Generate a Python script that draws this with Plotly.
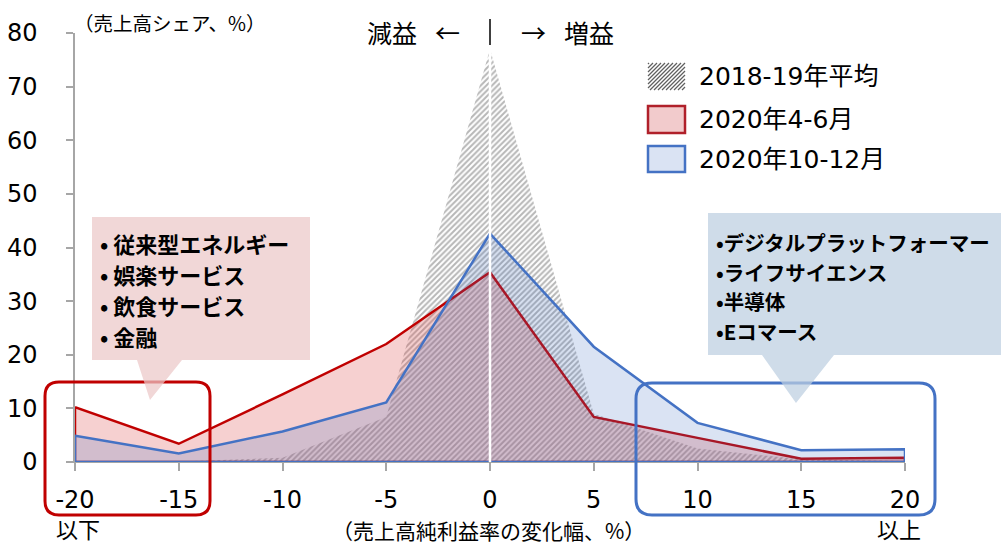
import plotly.graph_objects as go

# ---------------- data ----------------
x_cats = [-20, -15, -10, -5, 0, 5, 10, 15, 20]
avg_2018_19 = [0.0, 0.1, 0.8, 8.4, 77.0, 9.0, 2.5, 0.5, 0.2]
q2_2020 = [10.2, 3.4, 12.6, 22.0, 35.4, 8.4, 4.5, 0.6, 0.8]
q4_2020 = [4.9, 1.6, 5.7, 11.1, 42.6, 21.5, 7.3, 2.2, 2.4]

series_names = ["2018-19年平均", "2020年4-6月", "2020年10-12月"]
x_tick_vals = [-20, -15, -10, -5, 0, 5, 10, 15, 20]
x_tick_text = ["-20", "-15", "-10", "-5", "0", "5", "10", "15", "20"]
y_tick_vals = [0, 10, 20, 30, 40, 50, 60, 70, 80]

left_box_lines = ["従来型エネルギー", "娯楽サービス", "飲食サービス", "金融"]
right_box_lines = ["デジタルプラットフォーマー", "ライフサイエンス", "半導体", "Eコマース"]

# ---------------- layout geometry ----------------
W, H = 1001, 547
L, R, T, B = 75, 96, 33, 85
PW, PH = W - L - R, H - T - B

FONT = "DejaVu Sans, Noto Sans CJK JP, sans-serif"
JFONT = "Noto Sans CJK JP, DejaVu Sans, sans-serif"

RED = "#C00000"
BLUE = "#4472C4"


def px(xpix):
    return (xpix - L) / PW


def py(ypix):
    return (H - B - ypix) / PH


def closed(xs, ys):
    return xs + [xs[-1], xs[0], xs[0]], ys + [0, 0, ys[0]]


fig = go.Figure()

gx, gy = closed(x_cats, avg_2018_19)
fig.add_trace(go.Scatter(
    x=gx, y=gy, fill="toself", mode="lines",
    line=dict(width=0, color="rgba(0,0,0,0)"),
    fillcolor="rgba(255,255,255,0)",
    fillpattern=dict(shape="/", fgcolor="#707070", bgcolor="white", size=4, solidity=0.5),
    name=series_names[0], showlegend=False, hoverinfo="skip",
))

rx, ry = closed(x_cats, q2_2020)
fig.add_trace(go.Scatter(
    x=rx, y=ry, fill="toself", mode="lines",
    line=dict(width=2.5, color=RED),
    fillcolor="rgba(220,80,80,0.27)",
    name=series_names[1], showlegend=False, hoverinfo="skip",
))

bx, by = closed(x_cats, q4_2020)
fig.add_trace(go.Scatter(
    x=bx, y=by, fill="toself", mode="lines",
    line=dict(width=2.5, color=BLUE),
    fillcolor="rgba(68,114,196,0.20)",
    name=series_names[2], showlegend=False, hoverinfo="skip",
))

shapes = []
annotations = []

# white divider at x=0
shapes.append(dict(type="line", xref="x", yref="y", x0=0, x1=0, y0=0, y1=max(avg_2018_19) + 1,
                   line=dict(color="white", width=2.5), layer="above"))


def rounded_rect(x0, y0, x1, y1, r):
    pts = [
        ("M", px(x0 + r), py(y0)),
        ("L", px(x1 - r), py(y0)),
        ("Q", px(x1), py(y0), px(x1), py(y0 + r)),
        ("L", px(x1), py(y1 - r)),
        ("Q", px(x1), py(y1), px(x1 - r), py(y1)),
        ("L", px(x0 + r), py(y1)),
        ("Q", px(x0), py(y1), px(x0), py(y1 - r)),
        ("L", px(x0), py(y0 + r)),
        ("Q", px(x0), py(y0), px(x0 + r), py(y0)),
    ]
    s = ""
    for p in pts:
        cmd = p[0]
        nums = p[1:]
        s += cmd + " " + " ".join(
            f"{nums[i]:.5f},{nums[i+1]:.5f}" for i in range(0, len(nums), 2)) + " "
    return s + "Z"


def callout(x0, y0, x1, y1, tl, tr, ax, ay):
    seq = [(x0, y0), (x1, y0), (x1, y1), (tr, y1), (ax, ay), (tl, y1), (x0, y1)]
    s = "M " + " L ".join(f"{px(a):.5f},{py(b):.5f}" for a, b in seq) + " Z"
    return s


# rounded highlight frames
shapes.append(dict(type="path", xref="paper", yref="paper",
                   path=rounded_rect(45, 382, 210, 515, 14),
                   line=dict(color=RED, width=3), layer="above"))
shapes.append(dict(type="path", xref="paper", yref="paper",
                   path=rounded_rect(636, 383, 935, 515, 16),
                   line=dict(color=BLUE, width=3), layer="above"))

# callouts
shapes.append(dict(type="path", xref="paper", yref="paper",
                   path=callout(92, 217, 310, 360, 137, 182, 150, 400),
                   fillcolor="rgba(236,200,200,0.72)", line=dict(width=0), layer="above"))
shapes.append(dict(type="path", xref="paper", yref="paper",
                   path=callout(708, 213, 1001, 355, 762, 834, 796, 403),
                   fillcolor="rgba(188,206,224,0.72)", line=dict(width=0), layer="above"))

for i, t in enumerate(left_box_lines):
    annotations.append(dict(x=px(98), y=py(243 + 31 * i), xref="paper", yref="paper",
                            text="<b>• " + t + "</b>", showarrow=False, xanchor="left", yanchor="middle",
                            font=dict(family=JFONT, size=22, color="black")))
for i, t in enumerate(right_box_lines):
    annotations.append(dict(x=px(714), y=py(242 + 29.5 * i), xref="paper", yref="paper",
                            text="<b>•" + t + "</b>", showarrow=False, xanchor="left", yanchor="middle",
                            font=dict(family=JFONT, size=20.5, color="black")))

# legend (manual)
leg_x0, leg_x1 = 648, 685
leg_rows = [(63, 90), (106, 133), (146, 172)]
# hatched swatch
y0, y1 = leg_rows[0]
wbox, hbox = leg_x1 - leg_x0, y1 - y0
d = -hbox + 1
while d < wbox:
    v0 = max(0, -d)
    v1 = min(hbox, wbox - d)
    if v1 > v0:
        shapes.append(dict(type="line", xref="paper", yref="paper",
                           x0=px(leg_x0 + v0 + d), y0=py(y1 - v0),
                           x1=px(leg_x0 + v1 + d), y1=py(y1 - v1),
                           line=dict(color="#606060", width=1.3), layer="above"))
    d += 4
shapes.append(dict(type="rect", xref="paper", yref="paper",
                   x0=px(leg_x0), x1=px(leg_x1), y0=py(leg_rows[1][1]), y1=py(leg_rows[1][0]),
                   fillcolor="#F2CBCC", line=dict(color="#B0202A", width=2.5), layer="above"))
shapes.append(dict(type="rect", xref="paper", yref="paper",
                   x0=px(leg_x0), x1=px(leg_x1), y0=py(leg_rows[2][1]), y1=py(leg_rows[2][0]),
                   fillcolor="#DAE3F3", line=dict(color=BLUE, width=2.5), layer="above"))
for (a, b), name in zip(leg_rows, series_names):
    annotations.append(dict(x=px(697), y=py((a + b) / 2), xref="paper", yref="paper",
                            text=name, showarrow=False, xanchor="left", yanchor="middle",
                            font=dict(family=FONT, size=25, color="black")))

# header texts
annotations.append(dict(x=px(72), y=py(23), xref="paper", yref="paper", text="（売上高シェア、%）",
                        showarrow=False, xanchor="left", yanchor="middle",
                        font=dict(family=JFONT, size=19.5, color="black")))
annotations.append(dict(x=px(419), y=py(32), xref="paper", yref="paper", text="減益",
                        showarrow=False, xanchor="right", yanchor="middle",
                        font=dict(family=JFONT, size=25, color="black")))
annotations.append(dict(x=px(447), y=py(32), xref="paper", yref="paper", text="←",
                        showarrow=False, xanchor="center", yanchor="middle",
                        font=dict(family=JFONT, size=25, color="black")))
annotations.append(dict(x=px(533), y=py(32), xref="paper", yref="paper", text="→",
                        showarrow=False, xanchor="center", yanchor="middle",
                        font=dict(family=JFONT, size=25, color="black")))
annotations.append(dict(x=px(562), y=py(32), xref="paper", yref="paper", text="増益",
                        showarrow=False, xanchor="left", yanchor="middle",
                        font=dict(family=JFONT, size=25, color="black")))
shapes.append(dict(type="line", xref="paper", yref="paper", x0=px(490), x1=px(490), y0=py(19), y1=py(45),
                   line=dict(color="#404040", width=2)))

# bottom texts
annotations.append(dict(x=px(78), y=py(528), xref="paper", yref="paper", text="以下",
                        showarrow=False, xanchor="center", yanchor="middle",
                        font=dict(family=JFONT, size=22, color="black")))
annotations.append(dict(x=px(899), y=py(528), xref="paper", yref="paper", text="以上",
                        showarrow=False, xanchor="center", yanchor="middle",
                        font=dict(family=JFONT, size=22, color="black")))
annotations.append(dict(x=px(488), y=py(530), xref="paper", yref="paper", text="（売上高純利益率の変化幅、%）",
                        showarrow=False, xanchor="center", yanchor="middle",
                        font=dict(family=JFONT, size=21, color="black")))

fig.update_layout(
    width=W, height=H,
    margin=dict(l=L, r=R, t=T, b=B, autoexpand=False),
    paper_bgcolor="white", plot_bgcolor="white",
    showlegend=False,
    shapes=shapes, annotations=annotations,
    xaxis=dict(range=[-20, 20], tickvals=x_tick_vals, ticktext=x_tick_text,
               showgrid=False, zeroline=False, showline=True, linecolor="#A6A6A6", linewidth=1,
               ticks="outside", ticklen=8, tickcolor="#A6A6A6", tickwidth=1.5,
               tickfont=dict(family=FONT, size=24, color="black"), ticklabelstandoff=8,
               layer="below traces", fixedrange=True, automargin=False),
    yaxis=dict(range=[0, 80], tickvals=y_tick_vals,
               showgrid=False, zeroline=False, showline=True, linecolor="#A6A6A6", linewidth=1.5,
               ticks="outside", ticklen=7, tickcolor="#A6A6A6", tickwidth=1.5,
               tickfont=dict(family=FONT, size=24, color="black"), ticklabelstandoff=24,
               layer="below traces", fixedrange=True, automargin=False),
)

fig.write_html("out.html")
